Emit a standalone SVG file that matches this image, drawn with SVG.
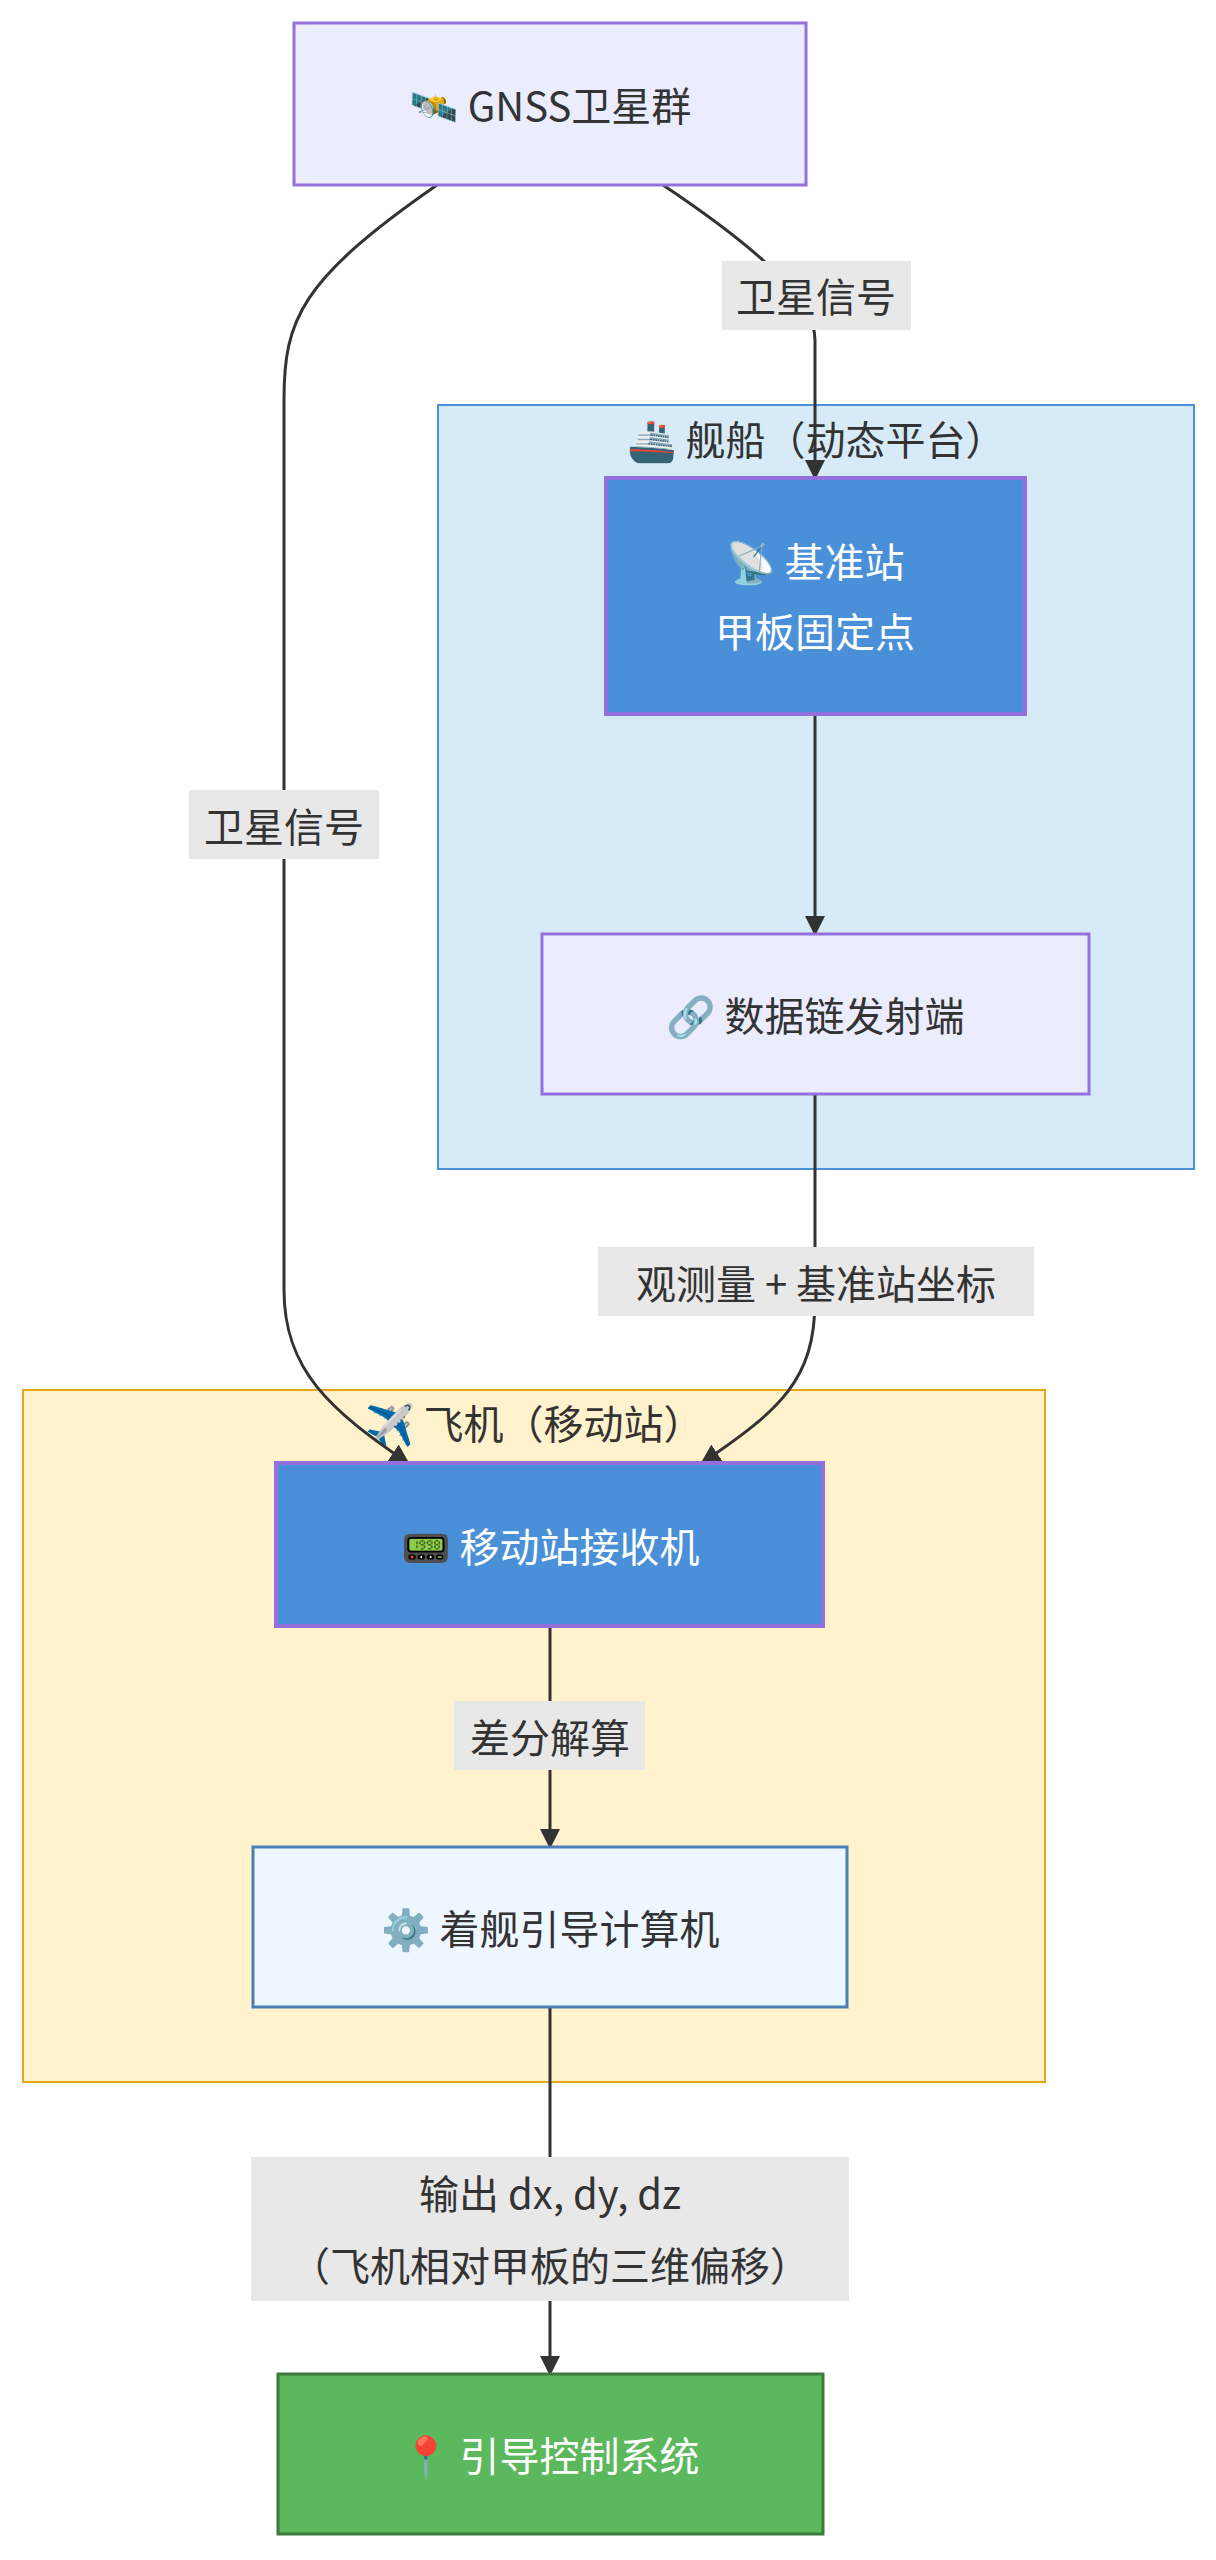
<svg xmlns="http://www.w3.org/2000/svg" width="1216" height="2560" viewBox="0 0 1216 2560">
<defs>
<marker id="ah" viewBox="0 0 10 10" refX="9" refY="5" markerWidth="20" markerHeight="20" orient="auto-start-reverse" markerUnits="userSpaceOnUse"><path d="M0,0 L10,5 L0,10 z" fill="#333"/></marker>
<style>
text{font-family:"Noto Sans CJK SC","Noto Sans",sans-serif;font-size:40px;fill:#333;text-anchor:middle;dominant-baseline:central}
.w{fill:#fff}
.e{fill:none;stroke:#333;stroke-width:3;marker-end:url(#ah)}
.lb{fill:#e8e8e8}
</style>
</defs>
<rect width="1216" height="2560" fill="#fff"/>
<g id="ship"><rect x="438" y="405" width="756" height="764" fill="#D6EAF8" stroke="#4A90D9" stroke-width="2"/><text x="816" y="438">🚢 舰船（动态平台）</text></g>
<g id="plane"><rect x="23" y="1390" width="1022" height="692" fill="#FFF2CC" stroke="#E6A817" stroke-width="2"/><text x="534" y="1422">✈️ 飞机（移动站）</text></g>
<g id="edges">
<path class="e" d="M663,185 C760,250 815,300 815,340 L815,478"/>
<path class="e" d="M437,185 C300,280 284,320 284,400 L284,1290 C284,1370 330,1410 408,1463"/>
<path class="e" d="M815,714 L815,934"/>
<path class="e" d="M815,1094 L815,1300 C815,1380 780,1410 702,1463"/>
<path class="e" d="M550,1626 L550,1847"/>
<path class="e" d="M550,2007 L550,2374"/>
<rect class="lb" x="722" y="261" width="189" height="69"/><text x="816" y="295">卫星信号</text>
<rect class="lb" x="189" y="790" width="190" height="69"/><text x="284" y="825">卫星信号</text>
<rect class="lb" x="598" y="1247" width="436" height="69"/><text x="816" y="1282">观测量 + 基准站坐标</text>
<rect class="lb" x="454" y="1701" width="191" height="69"/><text x="550" y="1736">差分解算</text>
<rect class="lb" x="251" y="2157" width="598" height="144"/><text x="550" y="2192">输出 dx, dy, dz</text><text x="550" y="2264">（飞机相对甲板的三维偏移）</text>
</g>
<g id="gnss"><rect x="294" y="23" width="512" height="162" fill="#ECECFF" stroke="#9370DB" stroke-width="3"/><text x="550" y="104">🛰️ GNSS卫星群</text></g>
<g id="base"><rect x="606" y="478" width="419" height="236" fill="#4A90D9" stroke="#9370DB" stroke-width="4"/><text class="w" x="815" y="560">📡 基准站</text><text class="w" x="815" y="630">甲板固定点</text></g>
<g id="link"><rect x="542" y="934" width="547" height="160" fill="#ECECFF" stroke="#9370DB" stroke-width="3"/><text x="815" y="1014">🔗 数据链发射端</text></g>
<g id="rx"><rect x="276" y="1463" width="547" height="163" fill="#4A90D9" stroke="#9370DB" stroke-width="4"/><text class="w" x="550" y="1545">📟 移动站接收机</text></g>
<g id="comp"><rect x="253" y="1847" width="594" height="160" fill="#EEF6FF" stroke="#4A7FB5" stroke-width="3"/><text x="550" y="1927">⚙️ 着舰引导计算机</text></g>
<g id="ctrl"><rect x="278" y="2374" width="545" height="160" fill="#5CB85C" stroke="#3D7A3D" stroke-width="3"/><text class="w" x="550" y="2454">📍 引导控制系统</text></g>
</svg>
